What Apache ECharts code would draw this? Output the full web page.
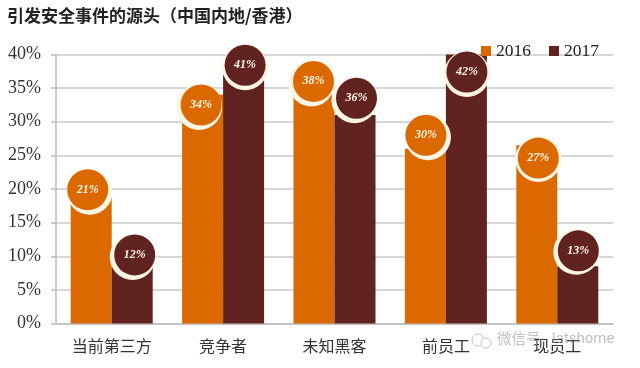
<!DOCTYPE html>
<html>
<head>
<meta charset="utf-8">
<style>
  html, body { margin: 0; padding: 0; background: #fff; }
  #chart { width: 640px; height: 368px; }
</style>
<script src="https://cdn.jsdelivr.net/npm/echarts@6/dist/echarts.min.js"></script>
</head>
<body>
<div id="chart"></div>
<script>
const categories = ['当前第三方', '竞争者', '未知黑客', '前员工', '现员工'];
// bar heights as drawn (they sit lower than the printed badge numbers)
const bars2016 = [19.5, 34, 34, 26, 26.5];
const bars2017 = [8.5, 37, 31, 40, 8.5];
// printed badge numbers and the height each badge is centred on
const labels2016 = [21, 34, 38, 30, 27];
const labels2017 = [12, 41, 36, 42, 13];
const badgeY2016 = [19.9, 32.5, 36, 28, 24.6];
const badgeY2017 = [10.2, 38.4, 33.5, 37.4, 10.8];
const badgeShift2016 = [-24, -22, -21, -20, -19];
const badgeShift2017 = [23, 22, 22, 21, 21];
// which way the pale ring sticks out from behind each badge
const ringDx2016 = [2, -2, -2, 2, 0];
const ringDy2016 = [2, 2, 2, 2, 1];
const ringDx2017 = [-2, 0, -2, 0, -2];
const ringDy2017 = [2, 2, 2, 2, 1];
const ticks = [0, 5, 10, 15, 20, 25, 30, 35, 40];

const orange = '#dc6900';
const maroon = '#602320';
const ringColor = '#fff5e4';
const serif = 'Liberation Serif, DejaVu Serif, serif';
const cjk = 'Noto Sans CJK SC, sans-serif';

const rings = (ys, shifts, dxs, dys) => ({
  type: 'scatter',
  clip: false,
  silent: true,
  z: 4,
  symbolSize: 46,
  itemStyle: { color: ringColor, opacity: 1 },
  data: ys.map((y, i) => ({ value: [i, y], symbolOffset: [shifts[i] + dxs[i], dys[i]] }))
});

const badges = (color, ys, shifts, labels) => ({
  type: 'scatter',
  clip: false,
  z: 5,
  symbolSize: 41,
  itemStyle: { color, opacity: 1 },
  label: {
    show: true,
    position: 'inside',
    color: ringColor,
    fontFamily: serif,
    fontStyle: 'italic',
    fontWeight: 'bold',
    fontSize: 12,
    formatter: p => labels[p.dataIndex] + '%'
  },
  data: ys.map((y, i) => ({ value: [i, y], symbolOffset: [shifts[i], 0] }))
});

const chart = echarts.init(document.getElementById('chart'), null, { renderer: 'canvas' });
chart.setOption({
  animation: false,
  backgroundColor: '#fff',
  title: {
    text: '引发安全事件的源头（中国内地/香港）',
    left: 2, top: 2,
    textStyle: { fontFamily: cjk, fontWeight: 'bold', fontSize: 17, color: '#222' }
  },
  legend: {
    data: ['2016', '2017'],
    left: 476, top: 37,
    icon: 'rect',
    itemWidth: 10, itemHeight: 10, itemGap: 18,
    textStyle: { fontFamily: serif, fontSize: 17.5, color: '#222' }
  },
  grid: { left: 56, right: 27, top: 54.5, bottom: 44.5 },
  xAxis: {
    type: 'category',
    data: categories,
    axisLine: { lineStyle: { color: '#bdbdbd', width: 1.5 } },
    axisTick: { show: false },
    axisLabel: { margin: 14, fontFamily: cjk, fontSize: 16, color: '#333' }
  },
  yAxis: {
    type: 'value',
    min: 0, max: 40, interval: 5,
    axisLine: { show: true, lineStyle: { color: '#bdbdbd', width: 1.5 } },
    axisTick: { show: true, length: 5, lineStyle: { color: '#bdbdbd', width: 1.5 } },
    axisLabel: {
      margin: 15, fontFamily: serif, fontSize: 18, color: '#333',
      formatter: v => ticks[v / 5] + '%'
    },
    splitLine: { lineStyle: { color: '#cacaca', width: 1.5 } }
  },
  series: [
    { name: '2016', type: 'bar', data: bars2016, barWidth: 41, barGap: 0, itemStyle: { color: orange } },
    { name: '2017', type: 'bar', data: bars2017, barWidth: 41, barGap: 0, itemStyle: { color: maroon } },
    rings(badgeY2016, badgeShift2016, ringDx2016, ringDy2016),
    rings(badgeY2017, badgeShift2017, ringDx2017, ringDy2017),
    badges(orange, badgeY2016, badgeShift2016, labels2016),
    badges(maroon, badgeY2017, badgeShift2017, labels2017)
  ],
  graphic: [
    // watermark, sits over the last category label in the source image
    { type: 'circle', z: 10, shape: { cx: 478, cy: 340, r: 6 }, style: { fill: 'none', stroke: 'rgba(175,175,175,0.7)', lineWidth: 1 } },
    { type: 'circle', z: 10, shape: { cx: 486, cy: 343, r: 5 }, style: { fill: '#fff', stroke: 'rgba(175,175,175,0.7)', lineWidth: 1 } },
    { type: 'text', z: 10, left: 497, top: 331, style: { text: '微信号', fontFamily: cjk, fontSize: 14.5, fill: 'rgba(160,160,160,0.65)' } },
    { type: 'text', z: 10, left: 552, top: 332, style: { text: 'latshome', fontFamily: 'Roboto, sans-serif', fontSize: 15, letterSpacing: 1, fill: 'rgba(160,160,160,0.65)' } }
  ]
});
</script>
</body>
</html>
